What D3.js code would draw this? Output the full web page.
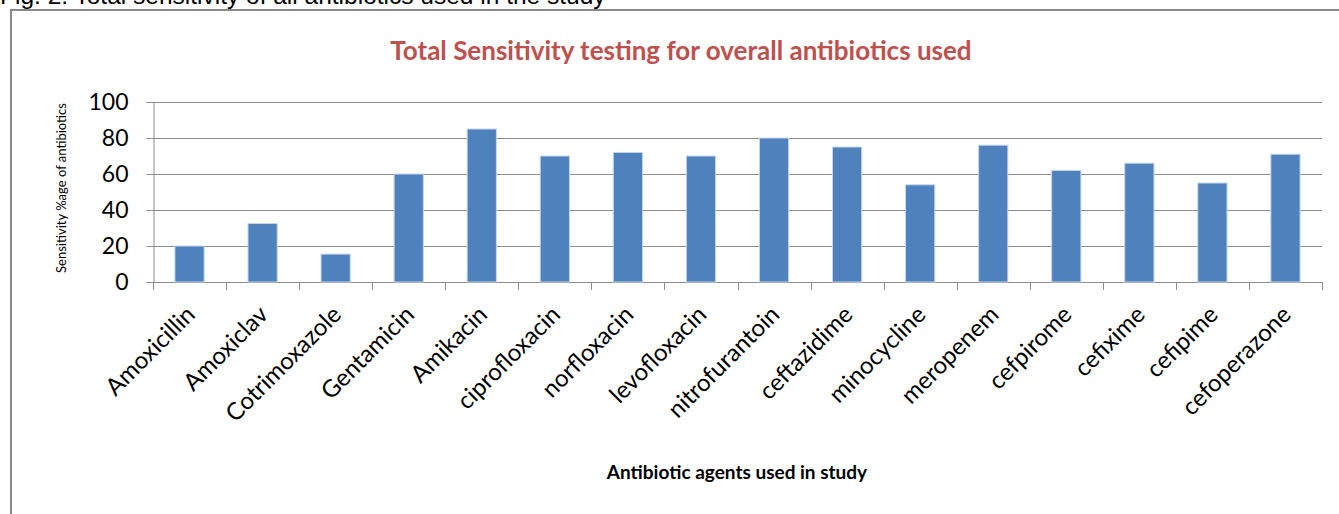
<!DOCTYPE html>
<html>
<head>
<meta charset="utf-8">
<script src="https://cdn.jsdelivr.net/npm/d3@7"></script>
<style>
  body { margin: 0; background: #fff; }
  svg { display: block; }
</style>
</head>
<body>
<div id="chart-area"></div>
<script>
const categories = ["Amoxicillin", "Amoxiclav", "Cotrimoxazole", "Gentamicin", "Amikacin",
  "ciprofloxacin", "norfloxacin", "levofloxacin", "nitrofurantoin", "ceftazidime",
  "minocycline", "meropenem", "cefpirome", "cefixime", "cefipime", "cefoperazone"]
const sensitivity = [20, 32.5, 15.5, 60, 85, 70, 72, 70, 80, 75, 54, 76, 62, 66, 55, 71]
const yTicks = [0, 20, 40, 60, 80, 100]

const W = 1339, H = 514
const MARGIN = { LEFT: 153, RIGHT: 17, TOP: 102, BOTTOM: 232 }
const WIDTH = W - MARGIN.LEFT - MARGIN.RIGHT
const HEIGHT = H - MARGIN.TOP - MARGIN.BOTTOM

const LABEL_FONT = "Lato, 'Open Sans', sans-serif"

const svg = d3.select("#chart-area").append("svg")
  .attr("width", W)
  .attr("height", H)

// caption above the chart box (cut off at the top, as in the source)
svg.append("text")
  .attr("x", 0)
  .attr("y", 4)
  .attr("font-family", "'Liberation Sans', Arial, sans-serif")
  .attr("font-size", "24.5px")
  .attr("fill", "#000")
  .text("Fig. 2: Total sensitivity of all antibiotics used in the study")

// chart area border
svg.append("rect")
  .attr("x", 11)
  .attr("y", 10)
  .attr("width", W + 20)
  .attr("height", H + 20)
  .attr("fill", "none")
  .attr("stroke", "#8a8a8a")
  .attr("stroke-width", 2)

// title
svg.append("text")
  .attr("x", 681)
  .attr("y", 60)
  .attr("text-anchor", "middle")
  .attr("font-family", LABEL_FONT)
  .attr("font-weight", "bold")
  .attr("font-size", "26px")
  .attr("fill", "#C0504D")
  .text("Total Sensitivity testing for overall antibiotics used")

const g = svg.append("g")
  .attr("transform", `translate(${MARGIN.LEFT}, ${MARGIN.TOP})`)

const x = d3.scaleBand()
  .domain(categories)
  .range([0, WIDTH])
  .padding(0)

const y = d3.scaleLinear()
  .domain([0, 100])
  .range([HEIGHT, 0])

// gridlines
g.append("g")
  .selectAll("line")
  .data(yTicks)
  .enter().append("line")
  .attr("x1", 0)
  .attr("x2", WIDTH)
  .attr("y1", d => Math.round(y(d)) + 0.5)
  .attr("y2", d => Math.round(y(d)) + 0.5)
  .attr("stroke", "#8c8c8c")
  .attr("stroke-width", 1)

// y axis
const yAxisCall = d3.axisLeft(y)
  .tickValues(yTicks)
  .tickSize(7)
  .tickPadding(18)
const yAxis = g.append("g")
  .attr("class", "y axis")
  .attr("transform", "translate(0.5,0)")
  .call(yAxisCall)
yAxis.select(".domain").attr("stroke", "#8c8c8c")
yAxis.selectAll(".tick line").attr("stroke", "#8c8c8c")
yAxis.selectAll("text")
  .attr("font-family", LABEL_FONT)
  .attr("font-size", "23px")
  .attr("fill", "#000")

// x axis: ticks at category boundaries
const xAxis = g.append("g")
  .attr("class", "x axis")
  .attr("transform", `translate(0, ${HEIGHT})`)
xAxis.append("line")
  .attr("x1", 0).attr("x2", WIDTH)
  .attr("y1", 0.5).attr("y2", 0.5)
  .attr("stroke", "#8c8c8c")
const bounds = categories.map(c => x(c)).concat([WIDTH])
xAxis.selectAll("line.tk")
  .data(bounds)
  .enter().append("line")
  .attr("class", "tk")
  .attr("x1", d => Math.round(d) + 0.5)
  .attr("x2", d => Math.round(d) + 0.5)
  .attr("y1", 0)
  .attr("y2", 8)
  .attr("stroke", "#8c8c8c")

xAxis.selectAll("text.lbl")
  .data(categories)
  .enter().append("text")
  .attr("class", "lbl")
  .attr("text-anchor", "end")
  .attr("font-family", LABEL_FONT)
  .attr("font-size", "24px")
  .attr("fill", "#000")
  .attr("transform", d => `translate(${x(d) + x.bandwidth() / 2 + 7}, 34) rotate(-45)`)
  .text(d => d)

// bars
const barW = x.bandwidth() * 0.4
g.selectAll("rect.bar")
  .data(sensitivity)
  .enter().append("rect")
  .attr("class", "bar")
  .attr("x", (d, i) => x(categories[i]) + (x.bandwidth() - barW) / 2)
  .attr("y", d => y(d))
  .attr("width", barW)
  .attr("height", d => HEIGHT - y(d))
  .attr("fill", "#4F81BD")
  .attr("stroke", "#c6d6ea")
  .attr("stroke-width", 1)

// axis titles
svg.append("text")
  .attr("transform", `translate(66, 188) rotate(-90)`)
  .attr("text-anchor", "middle")
  .attr("font-family", LABEL_FONT)
  .attr("font-size", "13px")
  .attr("fill", "#000")
  .text("Sensitivity %age of antibiotics")

svg.append("text")
  .attr("x", 737)
  .attr("y", 479)
  .attr("text-anchor", "middle")
  .attr("font-family", LABEL_FONT)
  .attr("font-weight", "bold")
  .attr("font-size", "19px")
  .attr("fill", "#000")
  .text("Antibiotic agents used in study")
</script>
</body>
</html>
